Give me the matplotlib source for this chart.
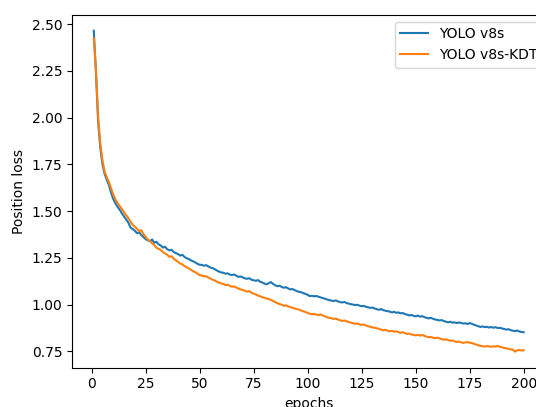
import matplotlib
matplotlib.use("Agg")
import matplotlib.pyplot as plt

# position loss per epoch
epochs = list(range(1, 201))

yolo_v8s = [
    2.465, 2.240, 1.980, 1.840, 1.752, 1.700, 1.668, 1.640, 1.598, 1.566,
    1.542, 1.523, 1.507, 1.488, 1.472, 1.455, 1.438, 1.412, 1.404, 1.395,
    1.382, 1.386, 1.372, 1.361, 1.350, 1.344, 1.339, 1.348, 1.331, 1.336,
    1.322, 1.316, 1.305, 1.309, 1.296, 1.290, 1.293, 1.281, 1.275, 1.270,
    1.262, 1.266, 1.255, 1.248, 1.243, 1.236, 1.231, 1.225, 1.218, 1.213,
    1.212, 1.208, 1.211, 1.204, 1.198, 1.195, 1.189, 1.182, 1.176, 1.172,
    1.170, 1.165, 1.167, 1.160, 1.158, 1.161, 1.154, 1.148, 1.150, 1.145,
    1.140, 1.138, 1.141, 1.133, 1.130, 1.127, 1.131, 1.122, 1.118, 1.112,
    1.108, 1.115, 1.120, 1.110, 1.103, 1.098, 1.101, 1.094, 1.090, 1.093,
    1.086, 1.081, 1.083, 1.077, 1.072, 1.068, 1.066, 1.061, 1.057, 1.052,
    1.045, 1.047, 1.044, 1.046, 1.042, 1.038, 1.035, 1.031, 1.027, 1.024,
    1.021, 1.019, 1.022, 1.017, 1.013, 1.011, 1.014, 1.008, 1.005, 1.002,
    1.000, 0.997, 0.999, 0.994, 0.991, 0.993, 0.988, 0.985, 0.982, 0.984,
    0.979, 0.975, 0.972, 0.976, 0.970, 0.967, 0.965, 0.962, 0.958, 0.961,
    0.956, 0.958, 0.953, 0.955, 0.949, 0.946, 0.942, 0.944, 0.940, 0.937,
    0.941, 0.935, 0.938, 0.933, 0.929, 0.926, 0.929, 0.924, 0.920, 0.918,
    0.915, 0.917, 0.912, 0.908, 0.905, 0.908, 0.903, 0.905, 0.901, 0.904,
    0.902, 0.898, 0.900, 0.896, 0.901, 0.897, 0.892, 0.888, 0.884, 0.880,
    0.883, 0.879, 0.881, 0.877, 0.880, 0.876, 0.879, 0.874, 0.876, 0.872,
    0.869, 0.866, 0.868, 0.863, 0.860, 0.858, 0.861, 0.856, 0.853, 0.852,
]

yolo_v8s_kdt = [
    2.425, 2.255, 2.005, 1.862, 1.772, 1.712, 1.681, 1.655, 1.622, 1.588,
    1.562, 1.543, 1.527, 1.511, 1.494, 1.478, 1.462, 1.443, 1.427, 1.416,
    1.405, 1.393, 1.398, 1.376, 1.362, 1.348, 1.339, 1.327, 1.318, 1.304,
    1.298, 1.292, 1.281, 1.274, 1.266, 1.255, 1.259, 1.245, 1.237, 1.228,
    1.220, 1.215, 1.206, 1.199, 1.193, 1.186, 1.178, 1.173, 1.165, 1.158,
    1.156, 1.150, 1.152, 1.145, 1.139, 1.133, 1.129, 1.122, 1.117, 1.113,
    1.110, 1.104, 1.106, 1.100, 1.095, 1.097, 1.091, 1.085, 1.081, 1.078,
    1.074, 1.069, 1.072, 1.063, 1.058, 1.054, 1.048, 1.044, 1.040, 1.036,
    1.032, 1.030, 1.025, 1.019, 1.013, 1.007, 1.003, 0.999, 0.993, 0.996,
    0.990, 0.986, 0.983, 0.979, 0.976, 0.973, 0.968, 0.964, 0.960, 0.955,
    0.951, 0.948, 0.950, 0.946, 0.944, 0.947, 0.942, 0.937, 0.932, 0.929,
    0.926, 0.923, 0.925, 0.920, 0.916, 0.912, 0.915, 0.910, 0.907, 0.903,
    0.900, 0.897, 0.899, 0.894, 0.891, 0.893, 0.888, 0.884, 0.881, 0.878,
    0.876, 0.873, 0.870, 0.866, 0.862, 0.865, 0.860, 0.857, 0.859, 0.855,
    0.857, 0.852, 0.849, 0.852, 0.847, 0.843, 0.845, 0.840, 0.838, 0.835,
    0.838, 0.834, 0.837, 0.833, 0.828, 0.825, 0.827, 0.823, 0.820, 0.823,
    0.819, 0.815, 0.812, 0.814, 0.810, 0.806, 0.808, 0.803, 0.800, 0.802,
    0.798, 0.795, 0.797, 0.799, 0.796, 0.794, 0.790, 0.786, 0.782, 0.779,
    0.777, 0.775, 0.778, 0.776, 0.774, 0.777, 0.775, 0.778, 0.774, 0.771,
    0.768, 0.766, 0.763, 0.760, 0.759, 0.748, 0.755, 0.757, 0.754, 0.756,
]

labels = ["YOLO v8s", "YOLO v8s-KDT"]
x_ticks = [0, 25, 50, 75, 100, 125, 150, 175, 200]
y_ticks = [0.75, 1.00, 1.25, 1.50, 1.75, 2.00, 2.25, 2.50]

W, H = 536, 407
fig = plt.figure(figsize=(W / 100, H / 100), dpi=100)
# reference is cropped on the right: axes stop at the figure edge, no right spine
ax = fig.add_axes([72.3 / W, 39.3 / H, (W - 72.3) / W, 353 / H])

ax.plot(epochs, yolo_v8s, color="#1f77b4", lw=1.5, label=labels[0])
ax.plot(epochs, yolo_v8s_kdt, color="#ff7f0e", lw=1.5, label=labels[1])

ax.set_xlim(-8.95, 205.7)
ax.spines["right"].set_visible(False)
ax.set_xlabel("epochs")
ax.xaxis.label.set_x((308.8 - 72.3) / (W - 72.3))  # centred on the uncropped axes
ax.set_ylabel("Position loss")
ax.set_xticks(x_ticks)
ax.set_yticks(y_ticks)
ax.legend(loc="upper left", bbox_to_anchor=(394.5 / W, 385.2 / H),
          bbox_transform=fig.transFigure, borderaxespad=0)

fig.savefig("out.png", dpi=100)
